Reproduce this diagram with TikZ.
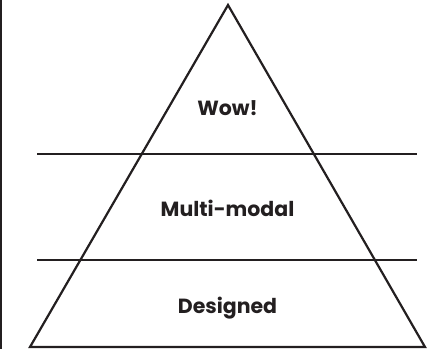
\documentclass[tikz,border=0pt]{standalone}
\usepackage{fontspec}
\setmainfont{Poppins}
\definecolor{ink}{HTML}{231F20}
\begin{document}
\begin{tikzpicture}[x=1pt,y=-1pt,
  edge/.style={draw=ink,line width=2.2pt},
  label/.style={text=ink,font=\fontsize{20.5}{22}\selectfont\bfseries,anchor=center,inner sep=0pt}]
\useasboundingbox (0,0) rectangle (433,349);
\coordinate (apex) at (228,5);
\coordinate (bl) at (30,347);
\coordinate (br) at (425,347);
\coordinate (l1a) at (37,154);
\coordinate (l1b) at (417,154);
\coordinate (l2a) at (37,260);
\coordinate (l2b) at (417,260);
\coordinate (ta) at (1,0);
\coordinate (tb) at (1,349);
\draw[edge] (ta) -- (tb);
\draw[edge,line join=miter] (apex) -- (bl) -- (br) -- cycle;
\draw[edge] (l1a) -- (l1b);
\draw[edge] (l2a) -- (l2b);
\node[label] (wow) at (227.5,108) {Wow!};
\node[label] (mm) at (227.5,208) {Multi-modal};
\node[label] (des) at (227.5,308) {Designed};
\end{tikzpicture}
\end{document}
